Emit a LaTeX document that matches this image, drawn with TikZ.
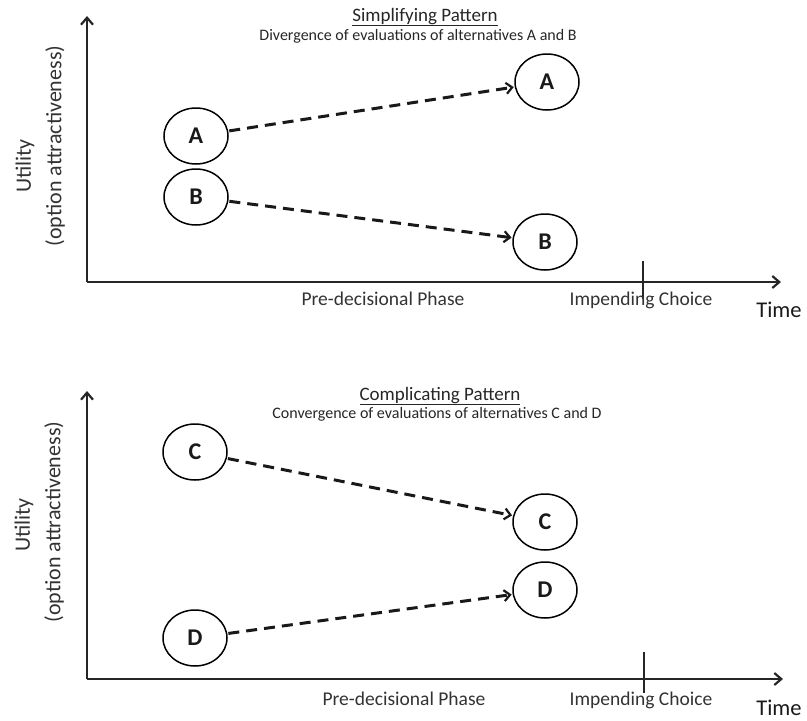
\documentclass[tikz,border=0pt]{standalone}
\usepackage{fontspec}
\setmainfont{Carlito}
\usetikzlibrary{shapes.geometric,arrows.meta}
\begin{document}
\begin{tikzpicture}[x=1pt,y=-1pt,
  opt/.style={ellipse,draw,line width=1.5pt,minimum width=64pt,minimum height=56pt,inner sep=0pt,font=\fontsize{24}{24}\selectfont\bfseries,text=black!90},
  axis/.style={line width=2.6pt,draw=black!85,-{Straight Barb[length=7pt,width=12pt,line width=2.2pt]}},
  move/.style={line width=3pt,draw=black!90,dash pattern=on 11pt off 7pt,-{Straight Barb[length=6pt,width=11pt,line width=2.2pt]}, shorten >=1pt, shorten <=1pt},
  tick/.style={line width=2.4pt,draw=black!85},
  lab/.style={font=\fontsize{19.5}{19.5}\selectfont,text=black!80,anchor=base},
  ttl/.style={font=\fontsize{19}{19}\selectfont,text=black!85,anchor=base},
  sub/.style={font=\fontsize{16}{16}\selectfont,text=black!85,anchor=base},
  ylab/.style={font=\fontsize{22}{22}\selectfont,text=black!80,rotate=90},
  timel/.style={font=\fontsize{22.5}{22.5}\selectfont,text=black!90,anchor=base,inner sep=1pt}]
\useasboundingbox (0,0) rectangle (807,721);
% ---------- top panel ----------
\coordinate (o1) at (87,282);
\coordinate (y1) at (87,16);
\coordinate (x1) at (781,282);
\draw[axis] (o1) -- (y1);
\draw[axis] (o1) -- (x1);
\coordinate (t1a) at (643,261);
\coordinate (t1b) at (643,299);
\draw[tick] (t1a) -- (t1b);
\node[ylab] (u1) at (25,166) {Utility};
\node[ylab] (oa1) at (55,146) {(option attractiveness)};
\node[ttl] (h1) at (425,21) {\underline{Simplifying Pattern}};
\node[sub] (s1) at (418,40) {Divergence of evaluations of alternatives A and B};
\node[lab] (p1) at (383,305) {Pre-decisional Phase};
\node[lab] (i1) at (641,305) {Impending Choice};
\node[timel] (tm1) at (779,317) {Time};
\node[opt] (A1) at (196,136) {A};
\node[opt] (B1) at (196,197) {B};
\node[opt] (A2) at (547,82) {A};
\node[opt] (B2) at (545,242) {B};
\draw[move] (A1) -- (A2);
\draw[move] (B1) -- (B2);
% ---------- bottom panel ----------
\coordinate (o2) at (87,679);
\coordinate (y2) at (87,391);
\coordinate (x2) at (783,679);
\draw[axis] (o2) -- (y2);
\draw[axis] (o2) -- (x2);
\coordinate (t2a) at (644,652);
\coordinate (t2b) at (644,693);
\draw[tick] (t2a) -- (t2b);
\node[ylab] (u2) at (24,525) {Utility};
\node[ylab] (oa2) at (54,522) {(option attractiveness)};
\node[ttl] (h2) at (440,400) {\underline{Complicating Pattern}};
\node[sub] (s2) at (437,418) {Convergence of evaluations of alternatives C and D};
\node[lab] (p2) at (404,705) {Pre-decisional Phase};
\node[lab] (i2) at (641,705) {Impending Choice};
\node[timel] (tm2) at (779,715) {Time};
\node[opt] (C1) at (195,452) {C};
\node[opt] (D1) at (195,638) {D};
\node[opt] (C2) at (545,522) {C};
\node[opt] (D2) at (545,590) {D};
\draw[move] (C1) -- (C2);
\draw[move] (D1) -- (D2);
\end{tikzpicture}
\end{document}
